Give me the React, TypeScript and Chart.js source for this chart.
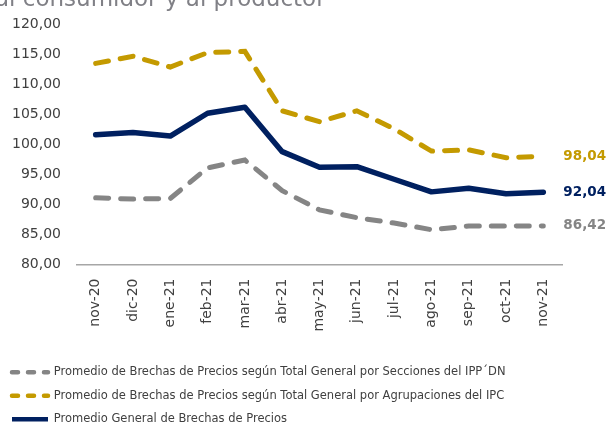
import React, { useEffect, useRef } from "react";
import { Chart, registerables } from "chart.js";

Chart.register(...registerables);

const categories = ["nov-20", "dic-20", "ene-21", "feb-21", "mar-21", "abr-21", "may-21", "jun-21", "jul-21", "ago-21", "sep-21", "oct-21", "nov-21"];
const ippValues = [91.1, 90.9, 91.0, 96.1, 97.4, 92.3, 89.1, 87.8, 86.9, 85.8, 86.4, 86.4, 86.42];
const ipcValues = [113.5, 114.7, 112.9, 115.3, 115.5, 105.6, 103.8, 105.6, 102.6, 98.9, 99.1, 97.8, 98.04];
const generalValues = [101.6, 102.0, 101.4, 105.2, 106.2, 98.8, 96.2, 96.3, 94.2, 92.1, 92.7, 91.8, 92.04];
const seriesNames = [
  "Promedio de Brechas de Precios según Total General por Secciones del IPP´DN",
  "Promedio de Brechas de Precios según Total General por Agrupaciones del IPC",
  "Promedio General de Brechas de Precios",
];
const titleText = "al consumidor y al productor";

const GRAY = "#858585";
const GOLD = "#C49A00";
const NAVY = "#002060";
const FONT = "'DejaVu Sans', sans-serif";

const fmt = (v: number) => v.toFixed(2).replace(".", ",");

const lastLabelPlugin = {
  id: "lastLabels",
  afterDatasetsDraw(chart: any) {
    const ctx = chart.ctx;
    ctx.save();
    ctx.font = `bold 13.5px ${FONT}`;
    ctx.textBaseline = "middle";
    ctx.textAlign = "left";
    chart.data.datasets.forEach((ds: any, i: number) => {
      const meta = chart.getDatasetMeta(i);
      const n = ds.data.length - 1;
      const pt = meta.data[n];
      ctx.fillStyle = ds.borderColor;
      ctx.fillText(fmt(ds.data[n]), pt.x + 20, pt.y);
    });
    ctx.restore();
  },
};

export default function App() {
  const ref = useRef<HTMLCanvasElement>(null);
  useEffect(() => {
    if (!ref.current) return;
    const colors = [GRAY, GOLD, NAVY];
    const chart = new Chart(ref.current, {
      type: "line",
      data: {
        labels: categories,
        datasets: [
          { label: seriesNames[0], data: ippValues, borderColor: GRAY, borderWidth: 5, borderDash: [13, 12], borderCapStyle: "round", pointRadius: 0, tension: 0, fill: false },
          { label: seriesNames[1], data: ipcValues, borderColor: GOLD, borderWidth: 5, borderDash: [13, 12], borderCapStyle: "round", pointRadius: 0, tension: 0, fill: false },
          { label: seriesNames[2], data: generalValues, borderColor: NAVY, borderWidth: 5.5, borderCapStyle: "round", borderJoinStyle: "round", pointRadius: 0, tension: 0, fill: false },
        ],
      },
      options: {
        responsive: false,
        animation: false,
        layout: { padding: { top: 23, right: 44, left: 0, bottom: 0 } },
        plugins: {
          title: { display: false },
          tooltip: { enabled: false },
          legend: {
            position: "bottom",
            align: "start",
            labels: {
              usePointStyle: true,
              pointStyleWidth: 36,
              padding: 12,
              color: "#404040",
              font: { family: FONT, size: 11.5 },
              generateLabels: () =>
                seriesNames.map((name, i) => ({
                  text: name,
                  fillStyle: colors[i],
                  strokeStyle: colors[i],
                  lineWidth: 4.5,
                  lineDash: i < 2 ? [6, 10] : [],
                  lineDashOffset: 0,
                  lineCap: i < 2 ? "round" : "butt",
                  pointStyle: "line",
                  hidden: false,
                  datasetIndex: i,
                  fontColor: "#404040",
                })),
            },
          },
        },
        scales: {
          x: {
            offset: true,
            grid: { display: false, drawTicks: false, offset: true },
            border: { display: true, color: "#A6A6A6", width: 1.5 },
            ticks: {
              color: "#404040",
              font: { family: FONT, size: 14 },
              minRotation: 90,
              maxRotation: 90,
              padding: 14,
              autoSkip: false,
            },
            afterFit: (s: any) => { s.height = 90; },
          },
          y: {
            min: 80,
            max: 120,
            grid: { display: false, drawTicks: false },
            border: { display: false },
            ticks: {
              stepSize: 5,
              color: "#404040",
              font: { family: FONT, size: 14 },
              padding: 16,
              callback: (v: any) => fmt(Number(v)),
            },
            afterFit: (s: any) => { s.width = 77; },
          },
        },
      },
      plugins: [lastLabelPlugin],
    } as any);
    return () => chart.destroy();
  }, []);

  return (
    <div style={{ position: "fixed", left: 0, top: 0, width: 606, height: 425, overflow: "hidden", background: "#fff" }}>
      <canvas ref={ref} width={606} height={435} style={{ display: "block", width: 606, height: 435 }} />
      <div
        style={{
          position: "absolute",
          left: -5,
          top: -13,
          fontFamily: FONT,
          fontSize: 23,
          lineHeight: "23px",
          color: "#808086",
          whiteSpace: "nowrap",
        }}
      >
        {titleText}
      </div>
    </div>
  );
}
